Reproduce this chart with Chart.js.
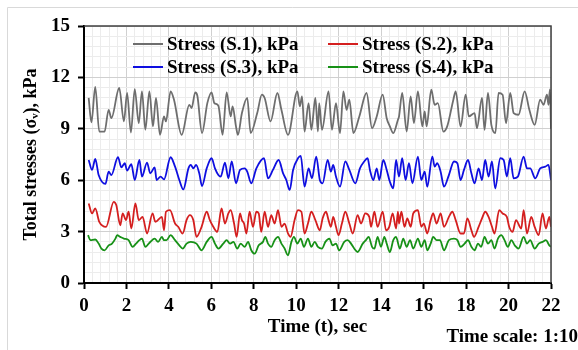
<!DOCTYPE html>
<html>
<head>
<meta charset="utf-8">
<script src="https://cdn.jsdelivr.net/npm/chart.js@4.4.1/dist/chart.umd.min.js"></script>
<style>
  html, body { margin: 0; padding: 0; background: #fff; }
  #wrap { position: relative; width: 578px; height: 350px; }
</style>
</head>
<body>
<div id="wrap"><canvas id="chart" width="578" height="350"></canvas></div>
<script>
// time (s) and stress (kPa), one pair of arrays per gauge
const s1T = [0.22,0.35,0.53,0.72,0.97,1.16,1.29,1.66,1.88,2.03,2.21,2.39,2.58,2.73,2.89,3.08,3.25,3.39,3.58,3.77,
  3.86,4.08,4.24,4.60,4.96,5.07,5.24,5.34,5.56,5.81,6.01,6.14,6.33,6.53,6.72,6.91,7.00,7.16,7.25,7.44,
  7.69,7.85,8.16,8.38,8.51,8.79,9.11,9.30,9.61,10.05,10.17,10.27,10.39,10.58,10.71,10.90,11.02,
  11.08,11.21,11.52,11.68,11.87,12.06,12.22,12.37,12.50,12.69,12.97,13.31,13.57,13.79,14.07,14.26,14.41,14.57,14.79,
  14.84,14.99,15.20,15.39,15.54,15.73,15.94,16.05,16.14,16.36,16.52,16.67,16.93,17.11,17.40,17.51,17.74,17.98,18.13,
  18.40,18.51,18.75,18.87,19.03,19.19,19.38,19.53,19.72,19.88,20.08,20.24,20.47,20.76,20.98,21.23,21.49,21.65,21.81,21.88,21.95,22.0];
const s1V = [10.8,9.37,11.44,8.84,8.84,10.11,9.62,11.38,9.43,11.09,8.78,11.32,9.33,11.19,8.94,11.19,9.14,10.8,8.65,9.72,
  9.43,11.19,10.7,8.65,10.4,10.21,11.13,10.93,8.75,10.5,11.13,10.5,10.35,8.65,11.13,9.72,10.31,9.14,8.65,9.92,
  10.8,8.75,9.92,10.99,10.8,9.43,11.09,10.11,8.65,11.19,10.31,10.89,8.84,10.5,8.94,10.8,8.84,
  10.5,8.94,11.19,8.94,10.5,8.75,11.19,10.11,10.7,8.75,9.72,11.09,9.04,9.72,10.99,9.62,9.14,8.75,9.53,
  9.72,11.09,8.84,10.89,9.33,11.19,9.14,10.01,9.14,11.28,10.4,10.5,8.84,9.14,10.7,11.19,9.14,10.99,9.72,
  9.92,9.04,10.8,8.94,11.09,9.23,8.75,11.09,10.99,9.33,11.09,9.92,9.82,11.19,10.11,9.23,10.7,10.4,11.0,10.4,11.3,9.0];

const s2T = [0.22,0.38,0.53,0.72,1.04,1.40,1.52,1.71,1.82,1.98,2.10,2.23,2.42,2.58,2.76,2.97,3.23,3.36,3.67,3.77,
  3.86,4.05,4.29,4.44,4.65,4.83,4.99,5.15,5.30,5.54,5.78,5.93,6.09,6.28,6.48,6.64,6.80,6.91,7.07,7.19,7.35,7.44,
  7.54,7.65,7.80,7.96,8.12,8.23,8.35,8.51,8.67,8.82,8.98,9.14,9.30,9.45,9.61,9.73,9.92,10.08,10.24,10.39,10.55,10.71,10.90,11.11,
  11.24,11.40,11.52,11.63,11.74,11.87,11.99,12.15,12.31,12.50,12.66,12.89,13.05,13.25,13.44,13.52,13.68,13.83,14.07,14.23,14.38,14.54,14.70,14.79,
  14.84,14.95,15.10,15.23,15.39,15.51,15.73,15.89,16.01,16.17,16.33,16.45,16.61,16.80,16.96,17.19,17.35,17.51,17.74,17.90,18.06,18.25,18.37,
  18.59,18.75,18.90,19.06,19.22,19.34,19.56,19.72,19.92,20.03,20.19,20.35,20.60,20.71,20.87,21.07,21.23,21.42,21.60,21.76,21.92,22.0];
const s2V = [4.64,4.06,4.35,3.57,3.28,4.74,4.55,3.37,4.06,3.67,4.16,3.18,4.64,3.67,3.86,2.89,4.06,3.57,3.86,3.08,
  4.16,4.25,3.47,3.28,2.89,3.67,3.96,3.67,2.69,3.28,4.16,3.67,3.28,2.98,4.35,3.47,4.06,4.25,3.47,2.69,4.06,3.67,
  3.47,2.89,4.16,3.28,4.16,4.06,2.98,4.16,3.28,3.96,3.47,4.25,3.28,3.47,2.89,2.69,3.67,4.25,4.16,2.89,3.47,4.16,3.67,3.08,
  3.77,4.16,3.67,3.28,3.86,3.28,2.79,3.47,4.16,3.47,2.89,3.96,3.47,4.06,3.86,3.28,4.16,3.28,4.16,3.08,3.28,4.06,3.18,4.16,
  3.47,4.16,3.28,3.77,3.28,4.06,4.25,3.28,3.47,2.89,3.67,4.06,3.47,4.06,3.28,3.86,4.16,3.67,2.89,2.89,3.77,3.08,2.69,
  3.28,3.77,4.16,3.86,3.28,2.89,4.25,4.06,3.86,3.28,2.98,3.67,3.18,4.25,2.89,3.86,3.28,2.79,4.06,3.18,3.86,3.28];

const s3T = [0.22,0.38,0.53,0.69,1.01,1.16,1.29,1.60,1.76,1.92,2.03,2.23,2.39,2.61,2.73,2.97,3.12,3.33,3.42,3.61,3.77,
  4.08,4.29,4.49,4.68,4.92,5.03,5.15,5.28,5.43,5.56,5.78,6.01,6.17,6.33,6.44,6.64,6.80,6.96,7.16,7.35,
  7.57,7.69,7.88,8.12,8.48,8.67,8.90,9.17,9.38,9.53,9.69,9.85,10.08,10.21,10.39,10.58,10.74,10.94,11.11,
  11.24,11.48,11.63,11.74,11.87,12.06,12.31,12.50,12.78,13.00,13.20,13.36,13.47,13.63,13.79,13.91,14.10,14.26,14.41,14.57,14.70,
  14.84,14.99,15.15,15.31,15.47,15.73,15.89,16.05,16.17,16.41,16.52,16.64,16.80,16.96,17.19,17.43,17.59,17.74,17.90,18.09,18.25,18.40,
  18.59,18.75,18.90,19.06,19.22,19.37,19.61,19.77,19.92,20.08,20.24,20.44,20.71,20.87,21.02,21.26,21.49,21.73,21.88,22.0];
const s3V = [7.18,6.60,7.24,6.30,5.78,6.50,6.30,7.34,6.75,6.99,6.56,6.93,6.01,7.18,6.21,7.03,6.40,6.75,6.01,6.21,6.05,
  7.34,6.79,6.01,5.46,6.69,6.89,6.69,6.89,6.40,5.66,6.69,7.28,6.69,6.30,6.21,7.03,6.11,7.09,5.82,6.60,
  6.69,6.50,5.82,6.69,7.28,6.11,6.60,7.18,6.40,6.01,5.43,6.60,7.28,7.42,5.62,6.69,6.11,7.38,6.01,
  5.82,7.18,6.50,6.89,6.21,5.62,7.09,6.60,5.82,6.69,7.09,7.28,6.60,6.01,6.69,6.01,7.18,6.60,5.91,5.52,7.18,
  6.21,7.28,6.01,6.99,5.82,7.38,6.01,6.50,5.62,7.38,6.79,6.99,6.50,5.62,6.30,7.09,6.99,6.01,6.60,7.18,6.40,5.82,
  6.69,6.01,7.18,6.21,7.09,5.52,7.28,7.18,6.21,7.28,6.11,6.21,7.38,6.69,6.69,6.11,6.69,6.79,6.89,6.01];

const s4T = [0.19,0.30,0.53,0.69,0.82,0.97,1.16,1.32,1.48,1.56,1.71,1.88,2.10,2.29,2.45,2.61,2.73,2.89,3.05,3.33,3.49,3.67,3.77,
  3.89,4.08,4.29,4.49,4.65,4.83,5.03,5.30,5.54,5.78,6.01,6.17,6.33,6.56,6.72,6.88,7.04,7.22,7.38,
  7.57,7.73,7.88,8.04,8.23,8.43,8.54,8.67,8.82,8.98,9.14,9.30,9.45,9.61,9.77,9.89,10.05,10.21,10.36,10.55,10.71,10.87,11.02,
  11.21,11.37,11.56,11.71,11.87,12.02,12.26,12.42,12.58,12.73,12.89,13.13,13.28,13.41,13.57,13.68,13.83,13.99,14.15,14.26,14.41,14.57,14.70,
  14.88,15.04,15.20,15.36,15.51,15.73,15.89,16.05,16.17,16.33,16.45,16.61,16.77,16.96,17.19,17.43,17.59,17.74,17.93,18.09,18.25,
  18.40,18.56,18.71,18.87,19.03,19.19,19.34,19.50,19.66,19.81,19.97,20.13,20.29,20.47,20.71,20.87,21.02,21.23,21.42,21.60,21.76,21.92,22.0];
const s4V = [2.79,2.50,2.54,2.30,2.01,1.91,2.20,2.30,2.59,2.79,2.69,2.59,2.50,2.11,2.30,2.50,2.59,2.11,2.30,2.59,2.40,2.69,2.50,
  2.50,2.79,2.50,2.20,2.01,2.30,2.40,2.30,1.91,2.40,2.69,2.30,2.01,2.30,2.50,2.30,2.40,2.01,2.30,
  2.11,2.40,1.91,1.71,2.20,2.40,2.69,2.30,2.11,2.50,2.69,2.30,2.01,1.62,2.40,2.69,2.30,2.59,2.11,2.59,2.11,2.40,2.11,
  2.01,2.40,2.59,2.20,2.30,1.91,2.40,2.50,2.30,2.01,1.81,2.30,2.50,2.69,2.11,2.01,2.69,2.11,2.69,2.30,1.81,2.50,2.69,
  2.01,2.59,2.11,2.50,2.01,2.59,2.11,2.50,1.91,2.30,2.69,2.50,2.50,1.91,2.50,2.59,2.50,2.11,2.30,2.50,2.11,
  1.91,2.30,2.11,2.69,2.30,2.50,2.01,2.59,2.79,2.50,2.11,2.50,2.20,2.01,2.69,2.30,2.50,2.01,2.30,2.40,2.50,2.20,2.11];

const seriesLabels = ['Stress (S.1), kPa', 'Stress (S.2), kPa', 'Stress (S.3), kPa', 'Stress (S.4), kPa'];
const seriesColors = ['#6e6e6e', '#d41f1f', '#0f0fe0', '#179117'];

const xMajor = 2, xMinor = 0.4;
const yMajor = 3, yMinor = 0.6;

function pts(t, v) { return t.map((x, i) => ({ x: x, y: v[i] })); }
function isMajor(v, step) { return Math.abs(v / step - Math.round(v / step)) < 1e-6; }

const serif = '"Liberation Serif", "Times New Roman", serif';
Chart.defaults.font.family = serif;
Chart.defaults.font.weight = 'bold';
Chart.defaults.color = '#000';

// legend inside the plot, two rows of two + the "Time scale" note + frame lines
const extras = {
  id: 'extras',
  afterDraw(chart) {
    const ctx = chart.ctx;
    const a = chart.chartArea;
    ctx.save();
    // top / right frame of plot area
    ctx.strokeStyle = '#404040';
    ctx.lineWidth = 1.5;
    ctx.beginPath();
    ctx.moveTo(a.left, a.top);
    ctx.lineTo(a.right, a.top);
    ctx.lineTo(a.right, a.bottom);
    ctx.stroke();
    // page border
    ctx.strokeStyle = '#d9d9d9';
    ctx.lineWidth = 1;
    ctx.beginPath();
    ctx.moveTo(7.5, 350);
    ctx.lineTo(7.5, 7.5);
    ctx.lineTo(578, 7.5);
    ctx.stroke();
    // legend
    const spots = [[133, 44], [328, 44], [133, 67], [328, 67]];
    ctx.font = 'bold 19px ' + serif;
    ctx.textBaseline = 'middle';
    chart.data.datasets.forEach((ds, k) => {
      const [x, y] = spots[k];
      ctx.strokeStyle = ds.borderColor;
      ctx.lineWidth = 2;
      ctx.beginPath();
      ctx.moveTo(x, y);
      ctx.lineTo(x + 30, y);
      ctx.stroke();
      ctx.fillStyle = '#000';
      ctx.fillText(ds.label, x + 34, y + 1);
    });
    ctx.textAlign = 'right';
    ctx.fillText('Time scale: 1:10', 578, 337);
    ctx.restore();
  }
};

new Chart(document.getElementById('chart'), {
  type: 'line',
  data: {
    datasets: [
      { label: seriesLabels[0], data: pts(s1T, s1V), borderColor: seriesColors[0] },
      { label: seriesLabels[1], data: pts(s2T, s2V), borderColor: seriesColors[1] },
      { label: seriesLabels[2], data: pts(s3T, s3V), borderColor: seriesColors[2] },
      { label: seriesLabels[3], data: pts(s4T, s4V), borderColor: seriesColors[3] }
    ]
  },
  options: {
    responsive: false,
    animation: false,
    devicePixelRatio: 1,
    layout: { padding: { left: 0, top: 26, right: 27, bottom: 0 } },
    elements: {
      point: { radius: 0 },
      line: { borderWidth: 1.8, cubicInterpolationMode: 'monotone', fill: false }
    },
    plugins: { legend: { display: false }, tooltip: { enabled: false } },
    scales: {
      x: {
        type: 'linear', min: 0, max: 22,
        afterFit: s => { s.height = 67; },
        ticks: {
          stepSize: xMinor, autoSkip: false, maxRotation: 0, padding: 6,
          font: { size: 19, weight: 'bold' },
          callback: v => isMajor(v, xMajor) ? String(Math.round(v)) : ''
        },
        grid: {
          lineWidth: 1, tickLength: 6, tickWidth: 2,
          color: c => isMajor(c.tick.value, xMajor) ? '#d0d0d0' : '#ececec',
          tickColor: c => isMajor(c.tick.value, xMajor) ? '#000' : 'rgba(0,0,0,0)'
        },
        border: { color: '#000', width: 2 },
        title: { display: true, text: 'Time (t), sec', font: { size: 19, weight: 'bold' }, padding: { top: 0, bottom: 12 } }
      },
      y: {
        min: 0, max: 15,
        afterFit: s => { s.width = 84; },
        ticks: {
          stepSize: yMinor, autoSkip: false, padding: 8,
          font: { size: 19, weight: 'bold' },
          callback: v => isMajor(v, yMajor) ? String(Math.round(v)) : ''
        },
        grid: {
          lineWidth: 1, tickLength: 6, tickWidth: 2,
          color: c => isMajor(c.tick.value, yMajor) ? '#d0d0d0' : '#ececec',
          tickColor: c => isMajor(c.tick.value, yMajor) ? '#000' : 'rgba(0,0,0,0)'
        },
        border: { color: '#000', width: 2 },
        title: { display: true, text: 'Total stresses (σ\u1d65), kPa', font: { size: 18, weight: 'bold' }, padding: { top: 21, bottom: 0 } }
      }
    }
  },
  plugins: [extras]
});
</script>
</body>
</html>
